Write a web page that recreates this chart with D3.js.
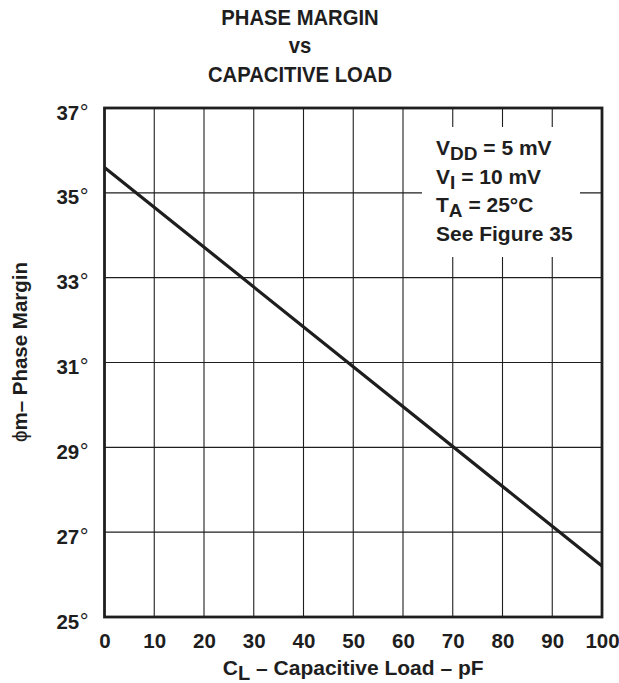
<!DOCTYPE html>
<html>
<head>
<meta charset="utf-8">
<script src="https://cdn.jsdelivr.net/npm/d3@7"></script>
<style>
  html, body { margin: 0; padding: 0; background: #fff; }
  svg { display: block; font-family: "Liberation Sans", Arial, Helvetica, sans-serif; }
</style>
</head>
<body>
<svg id="chart" width="619" height="683"></svg>
<script>
// Phase margin vs capacitive load
const loadPF = [0, 50, 100];
const phaseDeg = [35.6, 30.9, 26.2];
const xTicks = [0, 10, 20, 30, 40, 50, 60, 70, 80, 90, 100];
const yTicks = [25, 27, 29, 31, 33, 35, 37];
const titleLines = ["PHASE MARGIN", "vs", "CAPACITIVE LOAD"];
const notes = [
  { main: "V", sub: "DD", rest: " = 5 mV" },
  { main: "V", sub: "I", rest: " = 10 mV" },
  { main: "T", sub: "A", rest: " = 25°C" },
  { main: "See Figure 35", sub: "", rest: "" }
];

const ink = "#1e1e1e";
const svg = d3.select("#chart");
const plot = { left: 104.5, right: 602, top: 108, bottom: 617 };

const x = d3.scaleLinear().domain([0, 100]).range([plot.left, plot.right]);
const y = d3.scaleLinear().domain([25, 37]).range([plot.bottom, plot.top]);

// Title (slightly condensed, tall caps)
svg.append("g")
  .attr("transform", "translate(300,0) scale(0.9,1)")
  .selectAll("text")
  .data(titleLines)
  .join("text")
  .attr("x", 0)
  .attr("y", (d, i) => 25 + i * 28.5)
  .attr("text-anchor", "middle")
  .attr("font-size", 22.5)
  .attr("font-weight", "bold")
  .attr("fill", ink)
  .text(d => d);

// Grid: vertical lines every 10 pF, horizontal every 2 degrees
const grid = svg.append("g").attr("stroke", ink).attr("stroke-width", 1.1);
grid.selectAll("line.v")
  .data(xTicks.slice(1, -1))
  .join("line")
  .attr("class", "v")
  .attr("x1", d => x(d)).attr("x2", d => x(d))
  .attr("y1", plot.top).attr("y2", plot.bottom);
grid.selectAll("line.h")
  .data(yTicks.slice(1, -1))
  .join("line")
  .attr("class", "h")
  .attr("x1", plot.left).attr("x2", plot.right)
  .attr("y1", d => y(d)).attr("y2", d => y(d));

// Conditions box (blanks the grid behind it)
svg.append("rect")
  .attr("x", 422).attr("y", 127)
  .attr("width", 158).attr("height", 130)
  .attr("fill", "#fff");

const noteG = svg.append("g")
  .attr("font-size", 21)
  .attr("font-weight", "bold")
  .attr("fill", ink);
notes.forEach((n, i) => {
  const t = noteG.append("text")
    .attr("x", 436)
    .attr("y", 155 + i * 28.5);
  t.append("tspan").text(n.main);
  if (n.sub) {
    t.append("tspan").attr("font-size", 19).attr("dy", 5).text(n.sub);
    t.append("tspan").attr("dy", -5).text(n.rest);
  }
});

// Data curve
const line = d3.line()
  .x((d, i) => x(loadPF[i]))
  .y(d => y(d));
svg.append("path")
  .datum(phaseDeg)
  .attr("d", line)
  .attr("fill", "none")
  .attr("stroke", ink)
  .attr("stroke-width", 3.2);

// Frame
svg.append("rect")
  .attr("x", plot.left).attr("y", plot.top)
  .attr("width", plot.right - plot.left)
  .attr("height", plot.bottom - plot.top)
  .attr("fill", "none")
  .attr("stroke", ink)
  .attr("stroke-width", 2.8);

// X axis tick labels
const xAxis = d3.axisBottom(x).tickValues(xTicks).tickSize(0).tickPadding(0).tickFormat(d3.format("d"));
const xg = svg.append("g")
  .attr("transform", `translate(0,${plot.bottom})`)
  .call(xAxis);
xg.select(".domain").remove();
xg.selectAll("text")
  .attr("y", 31)
  .attr("dy", 0)
  .attr("font-size", 20.5)
  .attr("font-weight", "bold")
  .attr("font-family", "Liberation Sans, Arial, sans-serif")
  .attr("fill", ink);

// Y axis tick labels with degree sign
const yAxis = d3.axisLeft(y).tickValues(yTicks).tickSize(0).tickPadding(0).tickFormat(d => d);
const yg = svg.append("g")
  .attr("transform", `translate(${plot.left},0)`)
  .call(yAxis);
yg.select(".domain").remove();
yg.selectAll("text").each(function(d) {
  const t = d3.select(this);
  t.text(null)
    .attr("x", -16)
    .attr("dy", 11)
    .attr("font-size", 20.5)
    .attr("font-family", "Liberation Sans, Arial, sans-serif")
    .attr("fill", ink);
  t.append("tspan").attr("font-weight", "bold").text(d);
  t.append("tspan").attr("font-weight", "normal").attr("font-size", 22).attr("dx", 0.5).text("°");
});

// Axis titles
const xt = svg.append("text")
  .attr("x", (plot.left + plot.right) / 2)
  .attr("y", 675)
  .attr("text-anchor", "middle")
  .attr("font-size", 21)
  .attr("font-weight", "bold")
  .attr("fill", ink);
xt.append("tspan").text("C");
xt.append("tspan").attr("font-size", 20).attr("dy", 5).text("L");
xt.append("tspan").attr("dy", -5).text(" – Capacitive Load – pF");

const yt = svg.append("text")
  .attr("transform", "translate(27,352) rotate(-90)")
  .attr("text-anchor", "middle")
  .attr("font-size", 20.5)
  .attr("font-weight", "bold")
  .attr("fill", ink);
yt.append("tspan").attr("font-weight", "normal").text("ϕ");
yt.append("tspan").text("m– Phase Margin");
</script>
</body>
</html>
